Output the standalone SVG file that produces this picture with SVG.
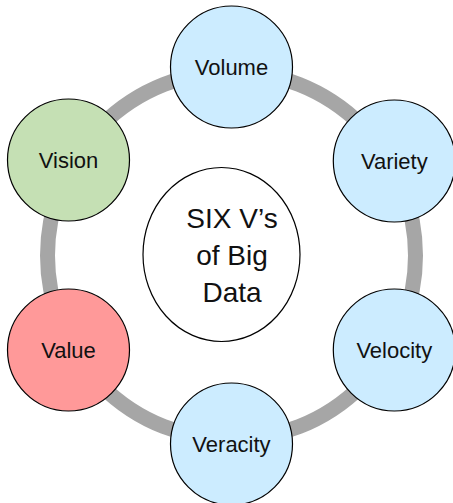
<svg xmlns="http://www.w3.org/2000/svg" width="453" height="503" viewBox="0 0 453 503">
<style>
.node{stroke:#000;stroke-width:1.2}
.blue{fill:#ccecff}
.lbl{font-family:"Liberation Sans",Arial,sans-serif;font-size:22px;fill:#111;text-anchor:middle}
.ctr{font-family:"Liberation Sans",Arial,sans-serif;font-size:28px;fill:#111;text-anchor:middle}
</style>
<rect width="453" height="503" fill="#fff"/>
<g id="connectors">
<circle cx="231.5" cy="255.5" r="184" fill="none" stroke="#a6a6a6" stroke-width="15"/>
</g>
<g id="center">
<ellipse cx="221.5" cy="254.5" rx="78.5" ry="87" fill="#fff" class="node"/>
<text class="ctr" x="232" y="228">SIX V’s</text>
<text class="ctr" x="232" y="265">of Big</text>
<text class="ctr" x="232" y="302">Data</text>
</g>
<g id="volume">
<circle cx="231.5" cy="67" r="61" class="node blue"/>
<text class="lbl" x="231.5" y="75">Volume</text>
</g>
<g id="variety">
<circle cx="394.3" cy="161" r="61" class="node blue"/>
<text class="lbl" x="394.3" y="169">Variety</text>
</g>
<g id="velocity">
<circle cx="394.3" cy="350" r="61" class="node blue"/>
<text class="lbl" x="394.3" y="358">Velocity</text>
</g>
<g id="veracity">
<circle cx="231.5" cy="444" r="61" class="node blue"/>
<text class="lbl" x="231.5" y="452">Veracity</text>
</g>
<g id="value">
<circle cx="68.5" cy="350" r="61" fill="#ff9999" class="node"/>
<text class="lbl" x="68.5" y="358">Value</text>
</g>
<g id="vision">
<circle cx="68.5" cy="160" r="61" fill="#c5e0b4" class="node"/>
<text class="lbl" x="68.5" y="168">Vision</text>
</g>
</svg>
